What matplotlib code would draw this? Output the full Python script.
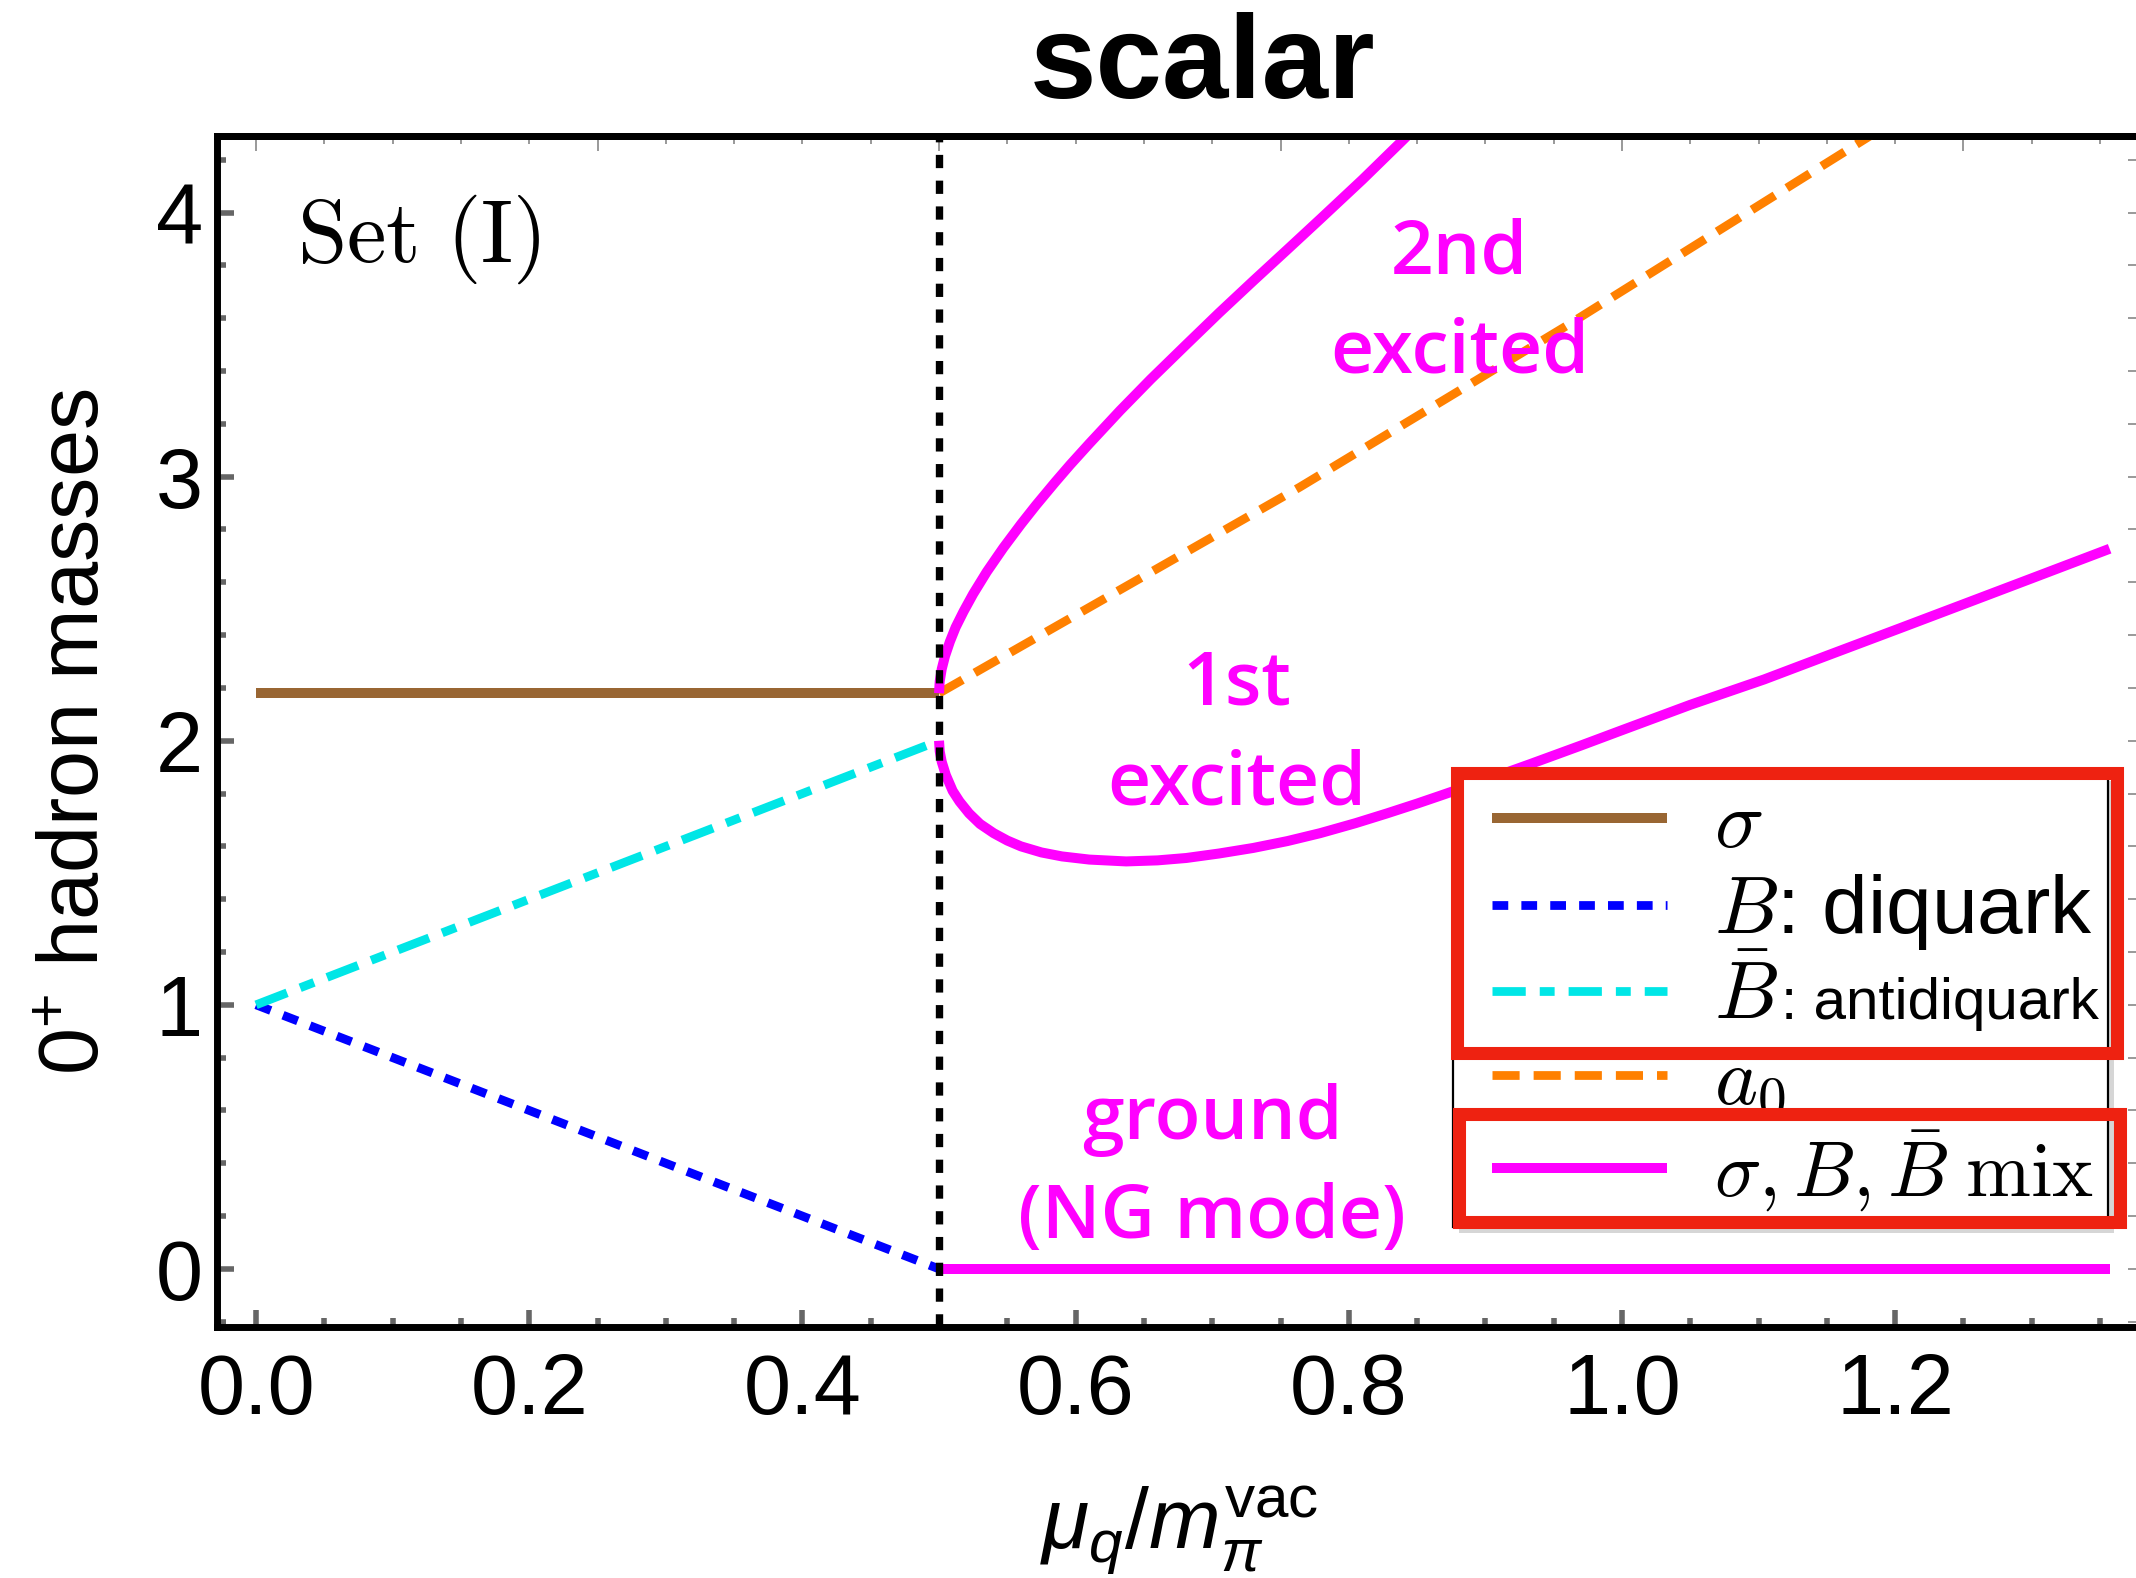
import matplotlib.pyplot as plt
from matplotlib.patches import Rectangle
from matplotlib.ticker import MultipleLocator
from matplotlib.font_manager import FontProperties

plt.rcParams['font.family'] = ['Liberation Sans', 'DejaVu Sans']
plt.rcParams['mathtext.fontset'] = 'custom'
plt.rcParams['mathtext.rm'] = 'Liberation Sans'
plt.rcParams['mathtext.it'] = 'Liberation Sans:italic'
plt.rcParams['mathtext.bf'] = 'Liberation Sans:bold'

# masses in units of m_pi^vac against mu_q / m_pi^vac
mu_c = 0.5

mu_vac = [0.0, 0.5]
sigma_vac = [2.18, 2.18]
diquark = [1.0, 0.0]
antidiquark = [1.0, 2.0]

mu_a0 = [0.5, 0.764, 0.959, 1.20]
a0 = [2.18, 2.96, 3.57, 4.35]

mu_ground = [0.5, 1.357]
ground = [0.0, 0.0]

mu_first = [0.5, 0.5005, 0.502, 0.505, 0.51, 0.515, 0.522, 0.53, 0.54, 0.55,
            0.56, 0.575, 0.59, 0.61, 0.637, 0.66, 0.681, 0.705, 0.73, 0.755,
            0.779, 0.805, 0.828, 0.85, 0.867, 0.90, 0.933, 0.97, 1.0, 1.05,
            1.104, 1.15, 1.204, 1.25, 1.30, 1.357]
first = [2.00, 1.96, 1.92, 1.87, 1.81, 1.77, 1.725, 1.685, 1.65, 1.622,
         1.60, 1.577, 1.562, 1.550, 1.543, 1.547, 1.556, 1.573, 1.594, 1.62,
         1.650, 1.688, 1.725, 1.762, 1.792, 1.851, 1.912, 1.982, 2.04, 2.136,
         2.232, 2.322, 2.427, 2.517, 2.615, 2.727]

mu_second = [0.5, 0.5005, 0.502, 0.5044, 0.508, 0.5122, 0.518, 0.525, 0.535,
             0.547, 0.56, 0.571, 0.585, 0.596, 0.61, 0.6325, 0.655, 0.681,
             0.705, 0.73, 0.755, 0.779, 0.81, 0.8397, 0.86]
second = [2.18, 2.225, 2.272, 2.321, 2.376, 2.43, 2.49, 2.556, 2.64,
          2.73, 2.82, 2.892, 2.979, 3.045, 3.125, 3.25, 3.369, 3.50,
          3.62, 3.741, 3.86, 3.975, 4.125, 4.275, 4.38]

W, H = 2136, 1578
fig = plt.figure(figsize=(W / 100, H / 100), dpi=100)
ax = fig.add_axes([217 / W, 1 - 1327 / H, (2142 - 217) / W, (1327 - 136) / H])

BROWN = '#996633'
BLUE = '#0000ff'
CYAN = '#00e6e6'
ORANGE = '#ff8000'
MAGENTA = '#ff00ff'

lw = 7.2
l_sigma, = ax.plot(mu_vac, sigma_vac, color=BROWN, lw=lw, solid_capstyle='butt')
l_b, = ax.plot(mu_vac, diquark, color=BLUE, lw=6.3, dashes=(1.8, 1.5))
l_bbar, = ax.plot(mu_vac, antidiquark, color=CYAN, lw=6.3, dashes=(3.8, 1.6, 1.7, 1.6))
l_a0, = ax.plot(mu_a0, a0, color=ORANGE, lw=6.3, dashes=(3.1, 1.6))
l_mix, = ax.plot(mu_ground, ground, color=MAGENTA, lw=lw, solid_capstyle='butt')
ax.plot(mu_first, first, color=MAGENTA, lw=lw, solid_capstyle='butt')
ax.plot(mu_second, second, color=MAGENTA, lw=lw, solid_capstyle='butt')
ax.axvline(mu_c, color='black', lw=5.3, dashes=(1.8, 1.7), zorder=3)

ax.set_xlim(-0.0286, 1.3807)
ax.set_ylim(-0.22, 4.29)

# frame and ticks
for s in ax.spines.values():
    s.set_linewidth(5)
ax.xaxis.set_major_locator(MultipleLocator(0.2))
ax.xaxis.set_minor_locator(MultipleLocator(0.05))
ax.yaxis.set_major_locator(MultipleLocator(1))
ax.yaxis.set_minor_locator(MultipleLocator(0.2))
ax.tick_params(which='both', direction='in', color='#666666', width=4,
               labelsize=61, top=False, right=False)
ax.tick_params(which='major', length=12)
ax.tick_params(which='minor', length=6.5)
ax.tick_params(axis='x', pad=18)
ax.tick_params(axis='y', pad=10)

secx = ax.secondary_xaxis('top')
secx.xaxis.set_major_locator(MultipleLocator(0.25))
secx.xaxis.set_minor_locator(MultipleLocator(0.05))
secx.tick_params(which='both', direction='in', color='#888888', width=1.2, labeltop=False)
secx.tick_params(which='major', length=11)
secx.tick_params(which='minor', length=6)
secx.spines['top'].set_linewidth(5)

secy = ax.secondary_yaxis('right')
secy.yaxis.set_major_locator(MultipleLocator(1))
secy.yaxis.set_minor_locator(MultipleLocator(0.2))
secy.tick_params(which='both', direction='in', color='#888888', width=1.2,
                 labelright=False, length=10)

ax.set_ylabel(r'$0^{+}$ hadron masses', fontsize=61)
ax.yaxis.set_label_coords(-0.052, 0.5)
ax.set_xlabel(r'$\mu_q/m_\pi^{\mathrm{vac}}$', fontsize=62)
ax.xaxis.set_label_coords(0.5, -0.131)

fig.text(0.563, 0.938, 'scalar', fontsize=86, fontweight='bold', ha='center', va='baseline')

ax.text(0.030, 3.814, r'$\mathrm{Set\ (I)}$', fontsize=64, math_fontfamily='cm',
        ha='left', va='baseline')

label_font = dict(family=['Open Sans', 'DejaVu Sans'], fontweight='semibold',
                  fontsize=54, color=MAGENTA, ha='center', va='center', linespacing=1.45)
ax.text(0.881, 3.655, '2nd\nexcited', **label_font)
ax.text(0.718, 2.02, '1st\nexcited', **label_font)
ax.text(0.700, 0.375, 'ground\n(NG mode)', **label_font)

# legend
prop = FontProperties(family='Liberation Sans', size=59, math_fontfamily='cm')
leg = ax.legend([l_sigma, l_b, l_bbar, l_a0, l_mix],
                [r'$\sigma$', r'$B$: diquark', r'$\bar{B}$', r'$a_0$',
                 r'$\sigma, B, \bar{B}\;\mathrm{mix}$'],
                loc='upper left', bbox_to_anchor=(1492 / W, 1 - 788 / H),
                bbox_transform=fig.transFigure, frameon=False, borderpad=0,
                borderaxespad=0, handlelength=175 / 82, handletextpad=47 / 82,
                labelspacing=0.1, prop=prop)
leg.get_texts()[4].set_fontsize(56)
leg.set_zorder(6)
ax.annotate(': antidiquark', xy=(1, 0), xycoords=leg.get_texts()[2],
            xytext=(2, 12.5), textcoords='offset points', fontsize=42,
            family='Liberation Sans', ha='left', va='baseline', zorder=8,
            annotation_clip=False)

def px_rect(x0, y0, x1, y1, **kw):
    return Rectangle((x0 / W, 1 - y1 / H), (x1 - x0) / W, (y1 - y0) / H,
                     transform=fig.transFigure, clip_on=False, **kw)

ax.add_patch(px_rect(1459, 781, 2114, 1233, facecolor='0.55', edgecolor='none',
                     alpha=0.35, zorder=4.8))
ax.add_patch(px_rect(1453, 775, 2108, 1227, facecolor='white', edgecolor='black',
                     lw=1.6, zorder=5))
ax.add_patch(px_rect(1456.5, 772.5, 2116.5, 1052.5, facecolor='none',
                     edgecolor='#ee2211', lw=9.4, zorder=9))
ax.add_patch(px_rect(1458.5, 1113.5, 2119.5, 1221.5, facecolor='none',
                     edgecolor='#ee2211', lw=9.4, zorder=9))

fig.savefig('out.png', dpi=100)
